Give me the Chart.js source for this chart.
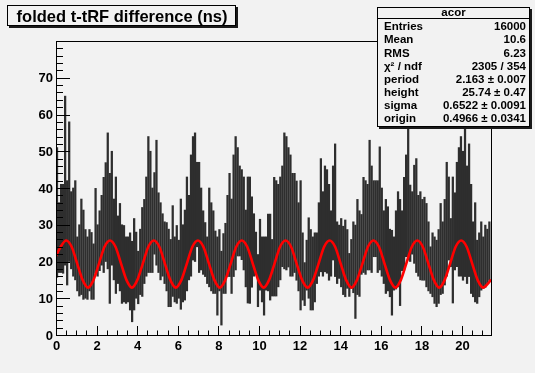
<!DOCTYPE html>
<html lang="en">
<head>
<meta charset="UTF-8">
<title>folded t-tRF difference (ns)</title>
<script src="https://cdn.jsdelivr.net/npm/chart.js"></script>
<style>
  body { margin: 0; background: #f2f2f2; }
  canvas { display: block; }
</style>
</head>
<body>
<canvas id="acorChart" width="535" height="373"></canvas>
<script>
// histogram binning: 214 bins of 0.1 ns from 0
const binStart = 0;
const binWidth = 0.1;

// upper end of each error bar
const barHigh = [
  51, 36, 41, 41, 65, 42, 58, 39, 40, 42,
  26.7, 30, 37, 34, 28.7, 26.7, 28.7, 27.9, 24.8, 39.9,
  30, 33.8, 38, 42.9, 46.9, 55, 44, 50, 37, 43,
  32.4, 35.8, 30, 29.8, 26.7, 26.7, 27.8, 25.5, 31.7, 28,
  22.8, 28.8, 34.7, 36.9, 43, 54, 50, 40, 44.2, 53,
  38.7, 36, 33, 30.8, 30.6, 28.8, 26, 35.2, 26.7, 29.8,
  25.8, 37, 30, 34, 43, 38, 49, 54, 55, 47,
  47, 40, 33.8, 30.6, 26.7, 40, 36, 33.8, 28.3, 26.7,
  28.7, 22.8, 27.6, 30.4, 38, 44, 37, 49, 54, 51,
  46, 45, 43, 34, 43, 43, 37.6, 33, 28, 21.9,
  31.5, 26.7, 26.7, 26.7, 32.9, 32.9, 26, 42.9, 42, 41,
  43, 46, 55, 54, 51, 49, 44, 44, 41.9, 36,
  42, 27.8, 19.7, 25.8, 31.9, 28.7, 26.7, 27.8, 27.8, 36,
  48, 39, 46, 45, 41, 33.8, 46, 52, 30.8, 29.9,
  31.7, 29.6, 31.3, 28.7, 22.2, 26, 30.8, 29.9, 36.9, 33.8,
  32.8, 42.9, 42, 41, 53, 46, 42, 42, 42, 51.2,
  40, 33.8, 36.9, 34.9, 28.8, 28.5, 26.7, 33.8, 39, 36.9,
  33.8, 42.9, 49, 62, 40.8, 39, 46.2, 48, 38, 39,
  36.9, 37.5, 35.8, 30.8, 24, 27.8, 26.7, 25.8, 28.7, 35.8,
  30.8, 36.9, 47, 43, 31.7, 43, 38.7, 47, 51, 54,
  50, 60, 46, 52, 41, 30.8, 36, 25.8, 27.8, 30.8,
  26.7, 29.9, 28.8, 30.8
];

// lower end of each error bar
const barLow = [
  15.7, 17, 17, 16.8, 19, 13.6, 20, 18, 16, 15,
  12, 10.6, 11, 9.7, 10, 9.7, 12, 9.7, 9.7, 17,
  16, 17.5, 19, 17, 20, 18, 8.6, 19, 15, 11.3,
  14, 12, 8.6, 9, 8.6, 9, 6.8, 3.6, 6.8, 10,
  8.5, 11, 10.5, 14, 16, 17, 17, 17, 22, 19,
  17, 15, 16, 14, 12, 7.7, 7.7, 10.5, 9, 8.6,
  10, 7, 9, 9.5, 12, 15, 16, 20.4, 20, 24,
  17, 17.7, 16.5, 15.9, 14, 13.1, 12, 11.3, 11.3, 5.4,
  12, 2.7, 11.3, 11.3, 15.9, 15.9, 11.3, 15.9, 17.7, 21.5,
  21.5, 20.5, 17.7, 13.1, 8.7, 8.6, 13, 16, 16.5, 7.7,
  12.2, 9, 5.4, 12.2, 12, 9.5, 10.6, 10.6, 10.6, 13.1,
  15, 18.6, 18, 17.7, 18.5, 16, 16, 17, 14.9, 12,
  6.8, 9.5, 8, 12.2, 10, 6.8, 6.8, 9, 14, 16,
  17.2, 16, 17.2, 16.8, 14.9, 16, 20.4, 15.9, 14, 15.4,
  13.1, 11, 10.4, 12.7, 10.5, 12.7, 11.5, 4.5, 11, 10.5,
  16.5, 17, 16.5, 17.7, 17.7, 17, 21.3, 21.3, 17, 17.7,
  16, 14, 11.3, 12, 10.4, 5.4, 12.2, 12.5, 13.1, 8,
  17.5, 17.7, 21.3, 20.4, 20, 22, 19.5, 17, 16, 15,
  14.9, 14.9, 13.1, 12, 11.3, 10.4, 8.6, 7.7, 8.6, 11,
  11.3, 13.6, 16, 20.4, 18.6, 8.7, 17.7, 18.6, 16, 16,
  14.9, 15.9, 14, 15.9, 11.3, 10.4, 9, 8.6, 10.4, 12.2,
  12.7, 13, 14, 14.9
];

// fitted curve
const fitX = [
  0, 0.23, 0.50, 0.77, 1.04, 1.31, 1.58, 1.85, 2.12, 2.39,
  2.66, 2.93, 3.20, 3.47, 3.74, 4.01, 4.28, 4.55, 4.82, 5.09,
  5.36, 5.63, 5.90, 6.18, 6.45, 6.72, 6.99, 7.26, 7.53, 7.80,
  8.07, 8.34, 8.61, 8.88, 9.15, 9.42, 9.69, 9.96, 10.23, 10.50,
  10.77, 11.04, 11.31, 11.58, 11.85, 12.12, 12.40, 12.67, 12.94, 13.21,
  13.48, 13.75, 14.02, 14.29, 14.56, 14.83, 15.10, 15.37, 15.64, 15.91,
  16.18, 16.45, 16.72, 16.99, 17.26, 17.53, 17.80, 18.07, 18.34, 18.61,
  18.88, 19.15, 19.42, 19.69, 19.96, 20.23, 20.50, 20.77, 21.04, 21.31,
  21.43
];
const fitY = [
  21.5, 24.0, 25.7, 24.0, 19.5, 15.0, 12.9, 15.0, 19.5, 24.0,
  25.7, 24.0, 19.5, 15.0, 12.9, 15.0, 19.5, 24.0, 25.7, 24.0,
  19.5, 15.0, 12.9, 15.0, 19.5, 24.0, 25.7, 24.0, 19.5, 15.0,
  12.9, 15.0, 19.5, 24.0, 25.7, 24.0, 19.5, 15.0, 12.9, 15.0,
  19.5, 24.0, 25.7, 24.0, 19.5, 15.0, 12.9, 15.0, 19.5, 24.0,
  25.7, 24.0, 19.5, 15.0, 12.9, 15.0, 19.5, 24.0, 25.7, 24.0,
  19.5, 15.0, 12.9, 15.0, 19.5, 24.0, 25.7, 24.0, 19.5, 15.0,
  12.9, 15.0, 19.5, 24.0, 25.7, 24.0, 19.5, 15.0, 12.9, 14.2,
  15.1
];

const xTicks = [0, 2, 4, 6, 8, 10, 12, 14, 16, 18, 20];
const yTicks = [0, 10, 20, 30, 40, 50, 60, 70];

const titleText = 'folded t-tRF difference (ns)';
const statName = 'acor';
const statLabels = ['Entries', 'Mean', 'RMS', 'χ² / ndf', 'period', 'height', 'sigma', 'origin'];
const statValues = ['16000', '10.6', '6.23', '2305 / 354', '2.163 ± 0.007', '25.74 ± 0.47', '0.6522 ± 0.0091', '0.4966 ± 0.0341'];

const bg = '#f2f2f2';
const fontFam = '"Liberation Sans", Arial, Helvetica, sans-serif';

const bars = barHigh.map(function (hi, i) {
  return { x: binStart + binWidth * (i + 0.5), y: [barLow[i], hi] };
});
const fitPts = fitX.map(function (x, i) { return { x: x, y: fitY[i] }; });

function pave(ctx, x, y, w, h) {
  ctx.fillStyle = '#1a1a1a';
  ctx.fillRect(x + 2, y + 2, w, h);
  ctx.fillStyle = bg;
  ctx.fillRect(x, y, w, h);
  ctx.strokeStyle = '#000';
  ctx.lineWidth = 1;
  ctx.strokeRect(x + 0.5, y + 0.5, w - 1, h - 1);
}

const rootLook = {
  id: 'rootLook',
  beforeDraw(chart) {
    const ctx = chart.ctx;
    ctx.save();
    ctx.fillStyle = bg;
    ctx.fillRect(0, 0, chart.width, chart.height);
    ctx.restore();
  },
  afterDatasetsDraw(chart) {
    const ctx = chart.ctx;
    const a = chart.chartArea;
    const xs = chart.scales.x, ys = chart.scales.y;
    ctx.save();
    ctx.strokeStyle = '#000';
    ctx.lineWidth = 1;
    ctx.strokeRect(Math.round(a.left) + 0.5, Math.round(a.top) + 0.5,
      Math.round(a.right - a.left), Math.round(a.bottom - a.top));

    // ticks inside the frame
    ctx.beginPath();
    for (let v = 0; v <= ys.max + 1e-6; v += 2) {
      const py = Math.round(ys.getPixelForValue(v)) + 0.5;
      const len = (v % 10 === 0) ? 14 : 7;
      ctx.moveTo(a.left, py);
      ctx.lineTo(a.left + len, py);
    }
    for (let v = 0; v <= xs.max + 1e-6; v += 0.5) {
      const px = Math.round(xs.getPixelForValue(v)) + 0.5;
      const len = (Math.abs(v % 2) < 1e-6) ? 9 : 4.5;
      ctx.moveTo(px, a.bottom);
      ctx.lineTo(px, a.bottom - len);
    }
    ctx.stroke();

    // tick labels
    ctx.fillStyle = '#000';
    ctx.font = 'bold 13px ' + fontFam;
    ctx.textAlign = 'right';
    ctx.textBaseline = 'alphabetic';
    yTicks.forEach(function (v) {
      ctx.fillText(String(v), a.left - 3, ys.getPixelForValue(v) + 4.7);
    });
    ctx.textAlign = 'center';
    xTicks.forEach(function (v) {
      ctx.fillText(String(v), xs.getPixelForValue(v) + 0.5, a.bottom + 14.5);
    });

    // title pave
    pave(ctx, 7, 5, 229, 21);
    ctx.fillStyle = '#000';
    ctx.font = 'bold 16.5px ' + fontFam;
    ctx.textAlign = 'center';
    ctx.fillText(titleText, 122, 21.5);

    // statistics box
    const bx = 377, by = 7, bw = 153, bh = 120;
    pave(ctx, bx, by, bw, bh);
    ctx.beginPath();
    ctx.moveTo(bx, by + 11.5);
    ctx.lineTo(bx + bw, by + 11.5);
    ctx.stroke();
    ctx.fillStyle = '#000';
    ctx.font = 'bold 11.5px ' + fontFam;
    ctx.textAlign = 'center';
    ctx.fillText(statName, bx + bw / 2, 16.3);
    statLabels.forEach(function (lab, i) {
      const base = 30.4 + i * 13.07;
      ctx.textAlign = 'left';
      ctx.fillText(lab, 384, base);
      ctx.textAlign = 'right';
      ctx.fillText(statValues[i], 526, base);
    });
    ctx.restore();
  }
};

new Chart(document.getElementById('acorChart'), {
  type: 'bar',
  data: {
    datasets: [
      {
        type: 'line',
        label: 'fit',
        data: fitPts,
        borderColor: '#ff0000',
        borderWidth: 2.6,
        pointRadius: 0,
        cubicInterpolationMode: 'monotone',
        fill: false,
        order: 0
      },
      {
        label: 'acor',
        data: bars,
        backgroundColor: '#2e2e2e',
        barThickness: 1.6,
        grouped: false,
        order: 1
      }
    ]
  },
  options: {
    responsive: false,
    animation: false,
    devicePixelRatio: 1,
    layout: { padding: { left: 56, top: 41, right: 44, bottom: 38 } },
    scales: {
      x: { type: 'linear', min: 0, max: 21.43, offset: false, display: false },
      y: { type: 'linear', min: 0, max: 80, display: false }
    },
    plugins: {
      legend: { display: false },
      tooltip: { enabled: false }
    }
  },
  plugins: [rootLook]
});
</script>
</body>
</html>
